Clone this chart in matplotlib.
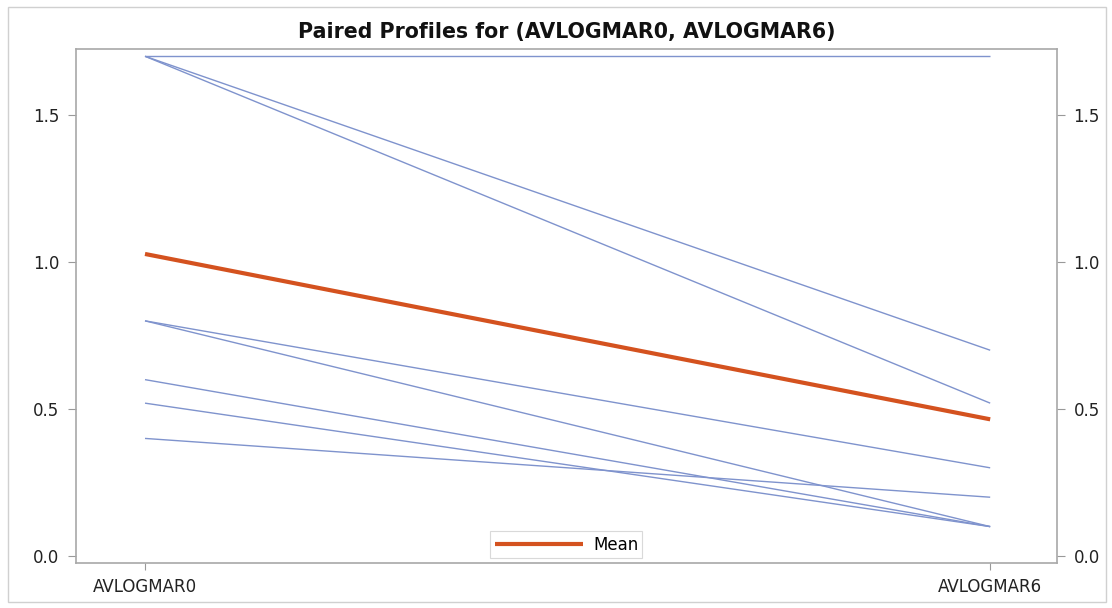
import matplotlib
matplotlib.use("Agg")
import matplotlib.pyplot as plt
from matplotlib.patches import Rectangle

# Data
time_labels = ["AVLOGMAR0", "AVLOGMAR6"]
avlogmar0 = [1.7, 1.7, 1.7, 0.8, 0.8, 0.6, 0.52, 0.4]
avlogmar6 = [1.7, 0.7, 0.52, 0.3, 0.1, 0.1, 0.1, 0.2]

mean0 = sum(avlogmar0) / len(avlogmar0)
mean6 = sum(avlogmar6) / len(avlogmar6)

plt.rcParams['font.family'] = ['DejaVu Sans']

fig = plt.figure(figsize=(11.12, 6.08), dpi=100)
ax = fig.add_axes([0.0683, 0.074, 0.8822, 0.8454])

xpos = [0, 1]
for a, b in zip(avlogmar0, avlogmar6):
    ax.plot(xpos, [a, b], color='#7f93cd', lw=1.0, solid_capstyle='butt')

ax.plot(xpos, [mean0, mean6], color='#d4521f', lw=3, label='Mean', solid_capstyle='butt')

ax.set_xlim(-0.0817, 1.079)
ax.set_ylim(-0.0238, 1.7247)
ax.set_xticks(xpos)
ax.set_xticklabels(time_labels)
ax.set_yticks([0.0, 0.5, 1.0, 1.5])
ax.set_yticklabels(['0.0', '0.5', '1.0', '1.5'])

ax.tick_params(axis='both', labelsize=12, colors='#999999', labelcolor='#222222')
ax.tick_params(axis='y', right=True, labelright=True, length=6, pad=6)
ax.tick_params(axis='x', length=5, pad=6)
for s in ax.spines.values():
    s.set_color('#a8a8a8')
    s.set_linewidth(1.2)

ax.set_title('Paired Profiles for (AVLOGMAR0, AVLOGMAR6)', fontsize=14.8, fontweight='bold',
             pad=8, color='#111111')

leg = ax.legend(loc='lower center', bbox_to_anchor=(0.5, -0.006), frameon=True, fontsize=12,
                handlelength=5.3, handletextpad=0.6, borderpad=0.25, fancybox=False,
                edgecolor='#d0d0d0')
leg.get_frame().set_linewidth(0.8)

# light frame around the whole graph
fig.add_artist(Rectangle((0.007, 0.01), 0.988, 0.978, transform=fig.transFigure,
                         fill=False, edgecolor='#d0d0d0', lw=1))

plt.savefig('out.png', dpi=100)
